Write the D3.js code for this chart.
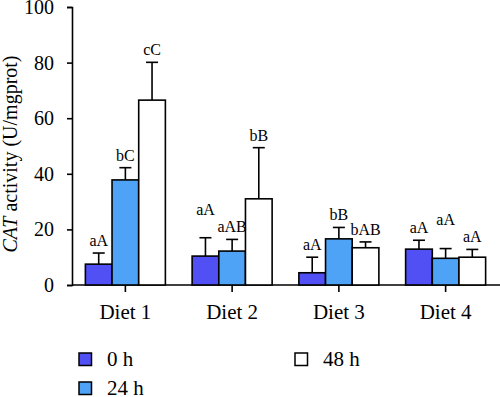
<!DOCTYPE html>
<html>
<head>
<meta charset="utf-8">
<script src="https://cdn.jsdelivr.net/npm/d3@7"></script>
<style>
  body { margin: 0; background: #fff; }
  svg { display: block; }
  text { font-family: 'Liberation Serif', serif; fill: #000; }
</style>
</head>
<body>
<svg></svg>
<script>
var diets = ["Diet 1", "Diet 2", "Diet 3", "Diet 4"],
    times = ["0 h", "24 h", "48 h"];

// mean values per diet, one array per sampling time
var mean0h  = [7.5, 10.4, 4.4, 12.9],
    mean24h = [37.8, 12.2, 16.6, 9.6],
    mean48h = [66.5, 31.0, 13.4, 10.0];

// standard deviations (upper error bars)
var sd0h  = [4.0, 6.6, 5.6, 3.2],
    sd24h = [4.4, 4.2, 4.1, 3.5],
    sd48h = [13.6, 18.4, 2.1, 2.8];

// significance letters
var sig0h  = ["aA", "aA", "aA", "aA"],
    sig24h = ["bC", "aAB", "bB", "aA"],
    sig48h = ["cC", "bB", "bAB", "aA"];

var yTicks = [0, 20, 40, 60, 80, 100];

var colors = ["#5050f5", "#4fa3f7", "#ffffff"];

var width = 500, height = 397,
    serif = "'Liberation Serif', serif";
var svg = d3.select("svg").attr("width", width).attr("height", height);

var means = [mean0h, mean24h, mean48h],
    sds = [sd0h, sd24h, sd48h],
    sigs = [sig0h, sig24h, sig48h];

var x0 = d3.scaleBand().domain(diets).range([72, 499]);
var x1 = d3.scaleBand().domain(times).range([-40, 40]);
var y = d3.scaleLinear().domain([0, 100]).range([285, 7]);

// flatten
var rows = [];
diets.forEach(function (d, i) {
  times.forEach(function (t, j) {
    rows.push({diet: d, time: t, ti: j, di: i, mean: means[j][i], sd: sds[j][i], sig: sigs[j][i]});
  });
});

// y axis
var yAxis = svg.append("g")
    .attr("transform", "translate(72,0)")
    .call(d3.axisLeft(y).tickValues(yTicks).tickSize(5).tickPadding(13));
yAxis.select(".domain").attr("stroke", "#000").attr("stroke-width", 1.6);
yAxis.selectAll(".tick line").attr("stroke-width", 1.6);
yAxis.selectAll("text")
    .style("font-family", serif).style("font-size", "20px").attr("fill", "#000");

// x axis
var xg = svg.append("g").attr("transform", "translate(0,285)");
xg.append("line").attr("x1", 72).attr("x2", 500).attr("stroke", "#000").attr("stroke-width", 1.6);
xg.selectAll(".xt").data(diets).enter().append("line")
    .attr("x1", function (d) { return x0(d) + x0.bandwidth() / 2; })
    .attr("x2", function (d) { return x0(d) + x0.bandwidth() / 2; })
    .attr("y1", 0).attr("y2", 7)
    .attr("stroke", "#000").attr("stroke-width", 1.6);
xg.selectAll(".xl").data(diets).enter().append("text")
    .attr("x", function (d) { return x0(d) + x0.bandwidth() / 2; })
    .attr("y", 34)
    .attr("text-anchor", "middle")
    .style("font-family", serif).style("font-size", "21px")
    .text(function (d) { return d; });

// y title
var title = svg.append("text")
    .attr("transform", "translate(17,154) rotate(-90)")
    .attr("text-anchor", "middle")
    .style("font-family", serif).style("font-size", "20px");
title.append("tspan").style("font-style", "italic").text("CAT");
title.append("tspan").text(" activity (U/mgprot)");

function bx(d) { return x0(d.diet) + x0.bandwidth() / 2 + x1(d.time); }

// error bars
var eb = svg.append("g").attr("stroke", "#000").attr("stroke-width", 1.6);
rows.forEach(function (d) {
  var cx = bx(d) + x1.bandwidth() / 2;
  eb.append("line").attr("x1", cx).attr("x2", cx).attr("y1", y(d.mean)).attr("y2", y(d.mean + d.sd));
  eb.append("line").attr("x1", cx - 6).attr("x2", cx + 6).attr("y1", y(d.mean + d.sd)).attr("y2", y(d.mean + d.sd));
});

// bars
svg.append("g").selectAll("rect").data(rows).enter().append("rect")
    .attr("x", bx)
    .attr("y", function (d) { return y(d.mean); })
    .attr("width", x1.bandwidth())
    .attr("height", function (d) { return y(0) - y(d.mean); })
    .attr("fill", function (d) { return colors[d.ti]; })
    .attr("stroke", "#000")
    .attr("stroke-width", 1.6);

// significance labels, lifted when they would collide with the neighbour
rows.forEach(function (d) { d.ly = y(d.mean + d.sd) - 7; });
for (var i = 0; i < rows.length - 1; i++) {
  var a = rows[i], b = rows[i + 1];
  if (a.diet === b.diet && Math.abs(a.ly - b.ly) < 6) a.ly = b.ly - 17;
}
svg.append("g").selectAll("text").data(rows).enter().append("text")
    .attr("x", function (d) { return bx(d) + x1.bandwidth() / 2; })
    .attr("y", function (d) { return d.ly; })
    .attr("text-anchor", "middle")
    .style("font-family", serif).style("font-size", "16px")
    .text(function (d) { return d.sig; });

// legend
var legPos = [[79, 353], [79, 382], [295, 353]];
var leg = svg.append("g").selectAll("g").data(times).enter().append("g")
    .attr("transform", function (d, i) { return "translate(" + legPos[i][0] + "," + legPos[i][1] + ")"; });
leg.append("rect")
    .attr("width", 12.5).attr("height", 12.5)
    .attr("fill", function (d, i) { return colors[i]; })
    .attr("stroke", "#000").attr("stroke-width", 1.5);
leg.append("text")
    .attr("x", 28).attr("y", 13)
    .style("font-family", serif).style("font-size", "21px")
    .text(function (d) { return d; });
</script>
</body>
</html>
